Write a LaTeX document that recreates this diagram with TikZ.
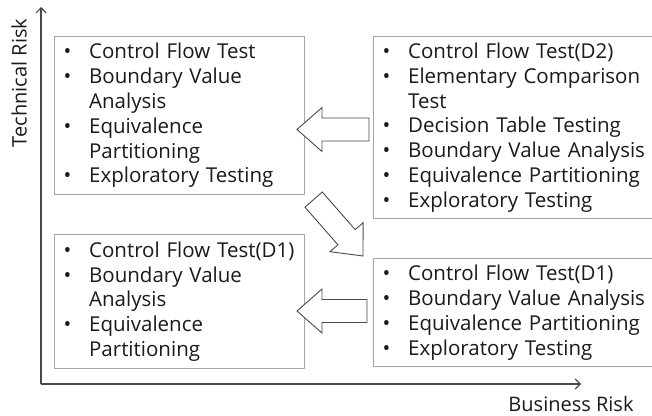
\documentclass[tikz,border=0pt]{standalone}
\usepackage{fontspec}
\setmainfont{Open Sans}
\usetikzlibrary{arrows.meta}
\definecolor{axisgray}{HTML}{4A4A4A}
\definecolor{boxgray}{HTML}{A6A6A6}
\definecolor{txt}{HTML}{1A1A1A}
\newcommand{\itm}[1]{\makebox[25.5pt][l]{•}#1}
\newcommand{\cnt}[1]{\hspace*{25.5pt}#1}
\tikzset{
  riskbox/.style={draw=boxgray, line width=1.3pt, rectangle, anchor=north west,
    inner xsep=9pt, inner ysep=2pt, align=left, text=txt,
    font=\fontsize{20.5}{24.8}\selectfont},
  axisline/.style={draw=axisgray, line width=1.5pt, -{Straight Barb[length=5pt,width=10pt,line width=1.2pt]}},
  axislabel/.style={text=txt, font=\fontsize{20}{24}\selectfont, inner sep=0pt},
  blockarrow/.style={draw=axisgray, line width=0.9pt, fill=white, line join=miter},
  pics/barrow/.style={code={
    \draw[blockarrow] (0,0) -- (-25,-22) -- (-25,-11.5) -- (-#1,-11.5)
      -- (-#1,11.5) -- (-25,11.5) -- (-25,22) -- cycle;}}
}
\begin{document}
\begin{tikzpicture}[x=1pt,y=-1pt]
\useasboundingbox (0,0) rectangle (652,415);
% axes
\coordinate (o) at (41,384);
\coordinate (ytop) at (41,7);
\coordinate (xend) at (581,384);
\draw[axisline] (o) -- (ytop);
\draw[axisline] (o) -- (xend);
\node[axislabel, rotate=90] (tr) at (19,83) {Technical Risk};
\node[axislabel, anchor=base] (br) at (571,411) {Business Risk};
% boxes
\node[riskbox, minimum width=250pt, minimum height=158pt, text width=232pt] (tl) at (54,36)
  {\itm{Control Flow Test}\\ \itm{Boundary Value}\\ \cnt{Analysis}\\ \itm{Equivalence}\\ \cnt{Partitioning}\\ \itm{Exploratory Testing}};
\node[riskbox, minimum width=281pt, minimum height=182pt, text width=263pt] (trb) at (373,36)
  {\itm{Control Flow Test(D2)}\\ \itm{Elementary Comparison}\\ \cnt{Test}\\ \itm{Decision Table Testing}\\ \itm{Boundary Value Analysis}\\ \itm{Equivalence Partitioning}\\ \itm{Exploratory Testing}};
\node[riskbox, minimum width=250pt, minimum height=134pt, text width=232pt] (bl) at (54,234)
  {\itm{Control Flow Test(D1)}\\ \itm{Boundary Value}\\ \cnt{Analysis}\\ \itm{Equivalence}\\ \cnt{Partitioning}};
\node[riskbox, minimum width=281pt, minimum height=108pt, text width=263pt] (brb) at (373,258)
  {\itm{Control Flow Test(D1)}\\ \itm{Boundary Value Analysis}\\ \itm{Equivalence Partitioning}\\ \itm{Exploratory Testing}};
% block arrows
\pic[rotate=180] (a1) at (297,129.5) {barrow=72};
\pic[rotate=-48.8] (a2) at (363,256) {barrow=75};
\pic[rotate=180] (a3) at (297,311) {barrow=70};
\end{tikzpicture}
\end{document}
